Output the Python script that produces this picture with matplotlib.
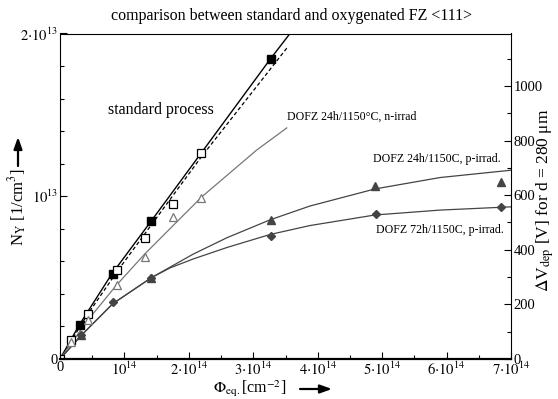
import matplotlib
matplotlib.use("Agg")
import matplotlib.pyplot as plt
from matplotlib.ticker import FixedLocator, MultipleLocator, FixedFormatter

plt.rcParams['font.family'] = ['Liberation Serif', 'DejaVu Serif']
plt.rcParams['mathtext.fontset'] = 'stix'

# units: fluence in 1e14 cm^-2, N_Y in 1e12 cm^-3
# standard process, filled squares (solid line)
std_fill_x = [0.316, 0.818, 1.42, 3.27]
std_fill_y = [2.11, 5.2, 8.46, 18.46]
std_line_x = [0, 0.3, 0.8, 1.42, 3.27, 3.57]
std_line_y = [0, 2.1, 5.2, 8.5, 18.46, 20.0]
# standard process, open squares (dashed line)
std_open_x = [0.0, 0.176, 0.44, 0.88, 1.315, 1.76, 2.19]
std_open_y = [0.0, 1.19, 2.77, 5.45, 7.44, 9.55, 12.64]
std_dash_x = [0, 0.43, 0.9, 2.19, 3.52]
std_dash_y = [0, 2.75, 5.45, 12.4, 19.1]
# DOFZ 24h n-irrad, open triangles
n_x = [0.176, 0.44, 0.88, 1.315, 1.76, 2.19]
n_y = [1.04, 2.38, 4.57, 6.27, 8.73, 9.9]
n_line_x = [0, 0.43, 0.875, 1.315, 2.2, 3.05, 3.52]
n_line_y = [0, 2.38, 4.53, 6.45, 9.96, 12.83, 14.2]
# DOFZ 24h p-irrad, filled triangles
p24_x = [0.326, 1.42, 3.27, 4.89, 6.85]
p24_y = [1.47, 4.98, 8.52, 10.63, 10.85]
p24_line_x = [0, 0.33, 0.82, 1.42, 2.07, 2.59, 3.26, 3.88, 4.89, 5.9, 7.0]
p24_line_y = [0, 1.45, 3.4, 5.0, 6.45, 7.45, 8.55, 9.4, 10.45, 11.15, 11.6]
# DOFZ 72h p-irrad, filled diamonds
p72_x = [0.326, 0.83, 1.42, 3.27, 4.9, 6.85]
p72_y = [1.47, 3.49, 4.98, 7.54, 8.94, 9.31]
p72_line_x = [0, 0.33, 0.82, 1.42, 1.71, 2.07, 2.59, 3.26, 3.88, 4.89, 5.9, 7.0]
p72_line_y = [0, 1.45, 3.4, 5.0, 5.6, 6.15, 6.85, 7.65, 8.2, 8.85, 9.15, 9.35]

x_ticks = [0, 1, 2, 3, 4, 5, 6, 7]
x_labels = ['0', r'$10^{14}$', r'$2{\cdot}10^{14}$', r'$3{\cdot}10^{14}$', r'$4{\cdot}10^{14}$',
            r'$5{\cdot}10^{14}$', r'$6{\cdot}10^{14}$', r'$7{\cdot}10^{14}$']
y_ticks = [0, 10, 20]
y_labels = ['0', r'$10^{13}$', r'$2{\cdot}10^{13}$']
r_ticks = [0, 200, 400, 600, 800, 1000]
r_max = 1192

fig = plt.figure(figsize=(5.58, 3.99), dpi=100)
ax = fig.add_axes([60/558, 1-359/399, (511-60)/558, (359-33.5)/399])

ax.plot(std_line_x, std_line_y, '-', color='black', lw=1.0)
ax.plot(std_dash_x, std_dash_y, '--', color='black', lw=0.9, dashes=(3, 2))
ax.plot(n_line_x, n_line_y, '-', color='#777777', lw=0.9)
ax.plot(p24_line_x, p24_line_y, '-', color='#444444', lw=0.9)
ax.plot(p72_line_x, p72_line_y, '-', color='#444444', lw=0.9)

ax.plot(std_fill_x, std_fill_y, 's', color='black', ms=6, mfc='black', ls='none')
ax.plot(std_open_x, std_open_y, 's', color='black', ms=6, mfc='white', mew=0.9, ls='none')
ax.plot(n_x, n_y, '^', color='#777777', ms=5.5, mfc='white', mew=0.9, ls='none')
ax.plot(p24_x, p24_y, '^', color='#444444', ms=5.5, mfc='#444444', ls='none')
ax.plot(p72_x, p72_y, 'D', color='#444444', ms=4.2, mfc='#444444', ls='none')

ax.set_xlim(0, 7)
ax.set_ylim(0, 20)
ax.xaxis.set_major_locator(FixedLocator(x_ticks))
ax.xaxis.set_major_formatter(FixedFormatter(x_labels))
ax.xaxis.set_minor_locator(MultipleLocator(0.5))
ax.yaxis.set_major_locator(FixedLocator(y_ticks))
ax.yaxis.set_major_formatter(FixedFormatter(y_labels))
ax.yaxis.set_minor_locator(MultipleLocator(2))
ax.tick_params(which='both', direction='in', labelsize=10.5, top=False)
ax.tick_params(which='major', length=5, width=0.8, pad=1.5)
ax.tick_params(which='minor', length=3, width=0.8)
for s in ['left', 'top', 'right']:
    ax.spines[s].set_linewidth(0.8)
ax.spines['bottom'].set_linewidth(1.6)

ax2 = ax.twinx()
ax2.set_ylim(0, r_max)
ax2.yaxis.set_major_locator(FixedLocator(r_ticks))
ax2.yaxis.set_minor_locator(MultipleLocator(100))
ax2.tick_params(which='both', direction='in', labelsize=10.5, pad=2)
ax2.tick_params(which='major', length=5, width=0.8)
ax2.tick_params(which='minor', length=3, width=0.8)
for s in ax2.spines.values():
    s.set_visible(False)

# texts
fig.text(292/558, 1-16/399, 'comparison between standard and oxygenated FZ <111>',
         ha='center', va='center', fontsize=11.5)
ax.text(0.745, 15.28, 'standard process', fontsize=11.5, va='center', ha='left')
ax.text(3.52, 14.9, 'DOFZ 24h/1150°C, n-irrad', fontsize=8.6, va='center', ha='left')
ax.text(4.86, 12.3, 'DOFZ 24h/1150C, p-irrad.', fontsize=8.6, va='center', ha='left')
ax.text(4.9, 7.9, 'DOFZ 72h/1150C, p-irrad.', fontsize=8.6, va='center', ha='left')

fig.text(250/558, 1-389/399, r'$\Phi_{\mathrm{eq.}}$[cm$^{-2}$]', ha='center', va='center', fontsize=11.5)
fig.text(18/558, 1-207/399, r'N$_{\mathrm{Y}}$ [1/cm$^{3}$]', ha='center', va='center',
         rotation=90, fontsize=12)
fig.text(545/558, 1-200/399, r'$\Delta$V$_{\mathrm{dep}}$ [V] for d = 280 μm', ha='center',
         va='center', rotation=90, fontsize=12.5)

arrow = dict(arrowstyle='-|>,head_length=0.7,head_width=0.25', lw=1.6, color='black',
             shrinkA=0, shrinkB=0)
ax.annotate('', xy=(332, 10), xytext=(300, 10), xycoords='figure pixels',
            textcoords='figure pixels', arrowprops=arrow)
ax.annotate('', xy=(18, 262), xytext=(18, 233), xycoords='figure pixels',
            textcoords='figure pixels', arrowprops=arrow)

fig.savefig('out.png', dpi=100)
